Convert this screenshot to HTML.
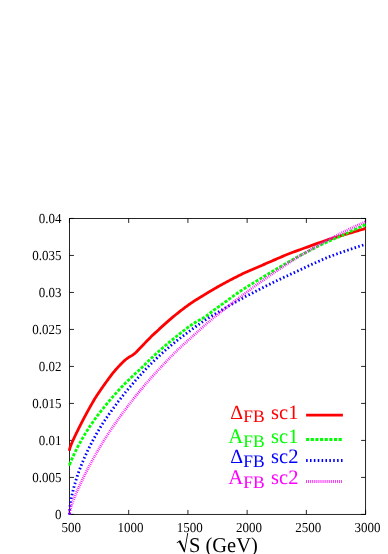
<!DOCTYPE html>
<html><head><meta charset="utf-8"><title>plot</title>
<style>
html,body{margin:0;padding:0;background:#fff;}
svg{display:block;will-change:transform;}
text{font-family:"Liberation Serif",serif;text-rendering:geometricPrecision;}
</style></head><body>
<svg width="388" height="554" viewBox="0 0 388 554">
<rect width="388" height="554" fill="#fff"/>
<g fill="none" stroke="#000" stroke-width="0.85">
<rect x="69.45" y="218.45" width="296.15" height="295.95"/>
<path d="M69.45,514.4 v-4.5 M69.45,218.45 v4.5 M128.68,514.4 v-4.5 M128.68,218.45 v4.5 M187.91,514.4 v-4.5 M187.91,218.45 v4.5 M247.14,514.4 v-4.5 M247.14,218.45 v4.5 M306.37,514.4 v-4.5 M306.37,218.45 v4.5 M365.60,514.4 v-4.5 M365.60,218.45 v4.5 M69.45,514.40 h4.5 M365.6,514.40 h-4.5 M69.45,477.41 h4.5 M365.6,477.41 h-4.5 M69.45,440.41 h4.5 M365.6,440.41 h-4.5 M69.45,403.42 h4.5 M365.6,403.42 h-4.5 M69.45,366.42 h4.5 M365.6,366.42 h-4.5 M69.45,329.43 h4.5 M365.6,329.43 h-4.5 M69.45,292.44 h4.5 M365.6,292.44 h-4.5 M69.45,255.44 h4.5 M365.6,255.44 h-4.5 M69.45,218.45 h4.5 M365.6,218.45 h-4.5 "/>
</g>
<g fill="none" stroke-width="2.8" stroke-linejoin="round">
<path d="M69.45,450.70 L69.45,450.56 L69.46,450.42 L69.47,450.28 L69.48,450.13 L69.50,449.98 L69.52,449.82 L69.54,449.66 L69.57,449.50 L69.60,449.33 L69.64,449.16 L69.68,448.98 L69.72,448.80 L69.76,448.62 L69.81,448.43 L69.87,448.23 L69.93,448.03 L69.99,447.83 L70.05,447.62 L70.12,447.41 L70.19,447.19 L70.27,446.96 L70.35,446.73 L70.43,446.50 L70.52,446.26 L70.61,446.01 L70.71,445.76 L70.81,445.50 L70.91,445.24 L71.01,444.97 L71.12,444.70 L71.24,444.42 L71.35,444.14 L71.48,443.84 L71.60,443.55 L71.73,443.24 L71.86,442.94 L72.00,442.62 L72.14,442.30 L72.28,441.97 L72.43,441.64 L72.58,441.30 L72.73,440.96 L72.89,440.60 L73.05,440.25 L73.22,439.88 L73.39,439.51 L73.56,439.13 L73.74,438.75 L73.92,438.36 L74.10,437.97 L74.29,437.57 L74.48,437.16 L74.68,436.74 L74.87,436.32 L75.08,435.89 L75.28,435.46 L75.49,435.02 L75.71,434.58 L75.93,434.12 L76.15,433.66 L76.37,433.20 L76.60,432.73 L76.83,432.25 L77.07,431.77 L77.31,431.28 L77.55,430.78 L77.80,430.28 L78.05,429.77 L78.31,429.26 L78.57,428.74 L78.83,428.21 L79.09,427.68 L79.36,427.14 L79.64,426.60 L79.91,426.05 L80.19,425.49 L80.48,424.93 L80.77,424.36 L81.06,423.79 L81.36,423.21 L81.65,422.63 L81.96,422.04 L82.27,421.44 L82.58,420.84 L82.89,420.24 L83.21,419.62 L83.53,419.01 L83.86,418.39 L84.18,417.76 L84.52,417.13 L84.85,416.50 L85.19,415.85 L85.54,415.21 L85.89,414.56 L86.24,413.91 L86.59,413.25 L86.95,412.58 L87.32,411.92 L87.68,411.25 L88.05,410.57 L88.43,409.89 L88.80,409.21 L89.19,408.52 L89.57,407.83 L89.96,407.14 L90.35,406.44 L90.75,405.74 L91.15,405.04 L91.55,404.33 L91.96,403.62 L92.37,402.91 L92.78,402.19 L93.20,401.48 L93.63,400.76 L94.05,400.03 L94.48,399.31 L94.91,398.58 L95.35,397.86 L95.79,397.15 L96.24,396.45 L96.69,395.77 L97.14,395.09 L97.59,394.41 L98.05,393.73 L98.52,393.06 L98.98,392.38 L99.45,391.69 L99.93,390.99 L100.41,390.29 L100.89,389.58 L101.37,388.87 L101.86,388.15 L102.36,387.44 L102.85,386.73 L103.35,386.02 L103.86,385.31 L104.36,384.59 L104.88,383.88 L105.39,383.17 L105.91,382.47 L106.43,381.76 L106.96,381.04 L107.49,380.31 L108.02,379.57 L108.56,378.81 L109.10,378.06 L109.65,377.30 L110.20,376.55 L110.75,375.80 L111.31,375.06 L111.87,374.34 L112.43,373.63 L113.00,372.94 L113.57,372.25 L114.14,371.56 L114.72,370.89 L115.30,370.22 L115.89,369.55 L116.48,368.89 L117.07,368.23 L117.67,367.57 L118.27,366.91 L118.87,366.26 L119.48,365.61 L120.09,364.96 L120.71,364.32 L121.33,363.69 L121.95,363.07 L122.58,362.46 L123.21,361.84 L123.84,361.23 L124.48,360.64 L125.12,360.06 L125.77,359.52 L126.42,359.01 L127.07,358.52 L127.73,358.06 L128.39,357.61 L129.05,357.17 L129.72,356.75 L130.39,356.36 L131.07,355.99 L131.75,355.62 L132.43,355.20 L133.12,354.74 L133.81,354.22 L134.50,353.66 L135.20,353.07 L135.90,352.44 L136.60,351.73 L137.31,350.98 L138.03,350.20 L138.74,349.43 L139.46,348.68 L140.19,347.94 L140.91,347.19 L141.64,346.44 L142.38,345.69 L143.12,344.93 L143.86,344.16 L144.61,343.39 L145.35,342.62 L146.11,341.84 L146.87,341.07 L147.63,340.28 L148.39,339.50 L149.16,338.71 L149.93,337.91 L150.71,337.11 L151.49,336.32 L152.27,335.56 L153.06,334.82 L153.85,334.10 L154.64,333.38 L155.44,332.66 L156.24,331.93 L157.05,331.16 L157.86,330.41 L158.67,329.65 L159.48,328.89 L160.31,328.14 L161.13,327.39 L161.96,326.64 L162.79,325.89 L163.62,325.14 L164.46,324.39 L165.31,323.64 L166.15,322.89 L167.00,322.14 L167.86,321.39 L168.71,320.64 L169.57,319.89 L170.44,319.14 L171.31,318.40 L172.18,317.66 L173.06,316.92 L173.94,316.19 L174.82,315.46 L175.71,314.73 L176.60,314.01 L177.49,313.29 L178.39,312.57 L179.29,311.86 L180.20,311.15 L181.11,310.45 L182.02,309.74 L182.94,309.04 L183.86,308.35 L184.79,307.65 L185.71,306.97 L186.65,306.28 L187.58,305.60 L188.52,304.93 L189.46,304.25 L190.41,303.59 L191.36,302.93 L192.32,302.29 L193.27,301.65 L194.24,301.03 L195.20,300.41 L196.17,299.80 L197.14,299.20 L198.12,298.60 L199.10,298.00 L200.08,297.40 L201.07,296.80 L202.06,296.20 L203.06,295.60 L204.06,294.99 L205.06,294.38 L206.07,293.76 L207.08,293.15 L208.09,292.53 L209.11,291.92 L210.13,291.31 L211.15,290.70 L212.18,290.09 L213.22,289.48 L214.25,288.88 L215.29,288.28 L216.34,287.68 L217.38,287.08 L218.43,286.49 L219.49,285.89 L220.55,285.30 L221.61,284.70 L222.68,284.11 L223.74,283.53 L224.82,282.94 L225.90,282.36 L226.98,281.78 L228.06,281.20 L229.15,280.62 L230.24,280.04 L231.34,279.47 L232.44,278.89 L233.54,278.32 L234.65,277.76 L235.76,277.19 L236.87,276.63 L237.99,276.07 L239.11,275.52 L240.24,274.96 L241.36,274.41 L242.50,273.86 L243.63,273.32 L244.77,272.79 L245.92,272.26 L247.07,271.74 L248.22,271.23 L249.37,270.72 L250.53,270.21 L251.69,269.71 L252.86,269.22 L254.03,268.72 L255.20,268.22 L256.38,267.72 L257.56,267.22 L258.75,266.71 L259.94,266.20 L261.13,265.68 L262.33,265.16 L263.53,264.64 L264.73,264.11 L265.94,263.58 L267.15,263.05 L268.36,262.52 L269.58,261.99 L270.80,261.46 L272.03,260.93 L273.26,260.40 L274.49,259.87 L275.73,259.34 L276.97,258.81 L278.21,258.27 L279.46,257.73 L280.71,257.19 L281.97,256.65 L283.23,256.12 L284.49,255.58 L285.76,255.05 L287.03,254.53 L288.30,254.01 L289.58,253.50 L290.86,253.00 L292.15,252.51 L293.44,252.03 L294.73,251.56 L296.03,251.10 L297.33,250.64 L298.63,250.18 L299.94,249.72 L301.25,249.25 L302.57,248.78 L303.89,248.30 L305.21,247.81 L306.53,247.32 L307.86,246.83 L309.20,246.34 L310.54,245.85 L311.88,245.36 L313.22,244.87 L314.57,244.39 L315.92,243.90 L317.28,243.42 L318.64,242.94 L320.00,242.46 L321.37,241.99 L322.74,241.51 L324.12,241.04 L325.49,240.57 L326.88,240.11 L328.26,239.65 L329.65,239.20 L331.04,238.76 L332.44,238.32 L333.84,237.89 L335.25,237.46 L336.65,237.04 L338.07,236.62 L339.48,236.20 L340.90,235.78 L342.32,235.36 L343.75,234.94 L345.18,234.52 L346.62,234.10 L348.05,233.67 L349.50,233.24 L350.94,232.81 L352.39,232.37 L353.84,231.93 L355.30,231.49 L356.76,231.05 L358.22,230.61 L359.69,230.17 L361.16,229.74 L362.64,229.30 L364.12,228.87 L365.60,228.45" stroke="#ff0000"/>
<path d="M306.1,415.05 H342.9" stroke="#ff0000"/>
<path d="M69.45,464.50 L69.45,464.54 L69.47,464.56 L69.49,464.54 L69.52,464.50 L69.56,464.43 L69.61,464.34 L69.67,464.22 L69.73,464.08 L69.81,463.91 L69.89,463.71 L69.98,463.50 L70.09,463.26 L70.20,463.00 L70.32,462.72 L70.44,462.41 L70.58,462.09 L70.73,461.74 L70.88,461.38 L71.04,461.00 L71.22,460.59 L71.40,460.17 L71.59,459.74 L71.79,459.28 L71.99,458.81 L72.21,458.32 L72.43,457.81 L72.67,457.29 L72.91,456.76 L73.16,456.21 L73.42,455.64 L73.69,455.06 L73.97,454.47 L74.26,453.86 L74.55,453.24 L74.86,452.61 L75.17,451.97 L75.49,451.31 L75.82,450.64 L76.16,449.96 L76.51,449.27 L76.87,448.57 L77.24,447.86 L77.61,447.14 L78.00,446.40 L78.39,445.66 L78.79,444.91 L79.20,444.15 L79.62,443.38 L80.05,442.60 L80.49,441.81 L80.93,441.02 L81.39,440.22 L81.85,439.41 L82.32,438.59 L82.80,437.76 L83.29,436.93 L83.79,436.09 L84.30,435.24 L84.82,434.39 L85.34,433.53 L85.88,432.67 L86.42,431.80 L86.97,430.92 L87.53,430.04 L88.10,429.15 L88.68,428.25 L89.27,427.35 L89.86,426.45 L90.47,425.54 L91.08,424.63 L91.71,423.71 L92.34,422.79 L92.98,421.86 L93.63,420.93 L94.28,419.99 L94.95,419.05 L95.63,418.11 L96.31,417.18 L97.00,416.25 L97.70,415.33 L98.42,414.40 L99.14,413.48 L99.86,412.56 L100.60,411.64 L101.35,410.71 L102.10,409.77 L102.87,408.83 L103.64,407.87 L104.42,406.91 L105.21,405.92 L106.01,404.93 L106.82,403.94 L107.63,402.95 L108.46,401.95 L109.29,400.95 L110.14,399.95 L110.99,398.94 L111.85,397.93 L112.72,396.92 L113.60,395.91 L114.49,394.90 L115.38,393.88 L116.29,392.86 L117.20,391.84 L118.12,390.82 L119.05,389.80 L120.00,388.77 L120.94,387.74 L121.90,386.71 L122.87,385.68 L123.84,384.67 L124.83,383.67 L125.82,382.67 L126.82,381.69 L127.84,380.70 L128.86,379.72 L129.88,378.74 L130.92,377.76 L131.97,376.77 L133.02,375.78 L134.09,374.79 L135.16,373.81 L136.24,372.83 L137.33,371.85 L138.43,370.84 L139.54,369.81 L140.66,368.74 L141.78,367.65 L142.92,366.52 L144.06,365.38 L145.21,364.24 L146.37,363.09 L147.54,361.93 L148.72,360.74 L149.91,359.56 L151.11,358.38 L152.31,357.23 L153.53,356.09 L154.75,354.96 L155.98,353.84 L157.22,352.72 L158.47,351.60 L159.73,350.49 L161.00,349.37 L162.27,348.26 L163.56,347.15 L164.85,346.04 L166.15,344.92 L167.46,343.81 L168.78,342.69 L170.11,341.57 L171.45,340.45 L172.80,339.34 L174.15,338.23 L175.52,337.12 L176.89,336.02 L178.27,334.92 L179.66,333.81 L181.06,332.71 L182.47,331.60 L183.89,330.49 L185.31,329.38 L186.75,328.29 L188.19,327.24 L189.64,326.23 L191.10,325.21 L192.57,324.20 L194.05,323.22 L195.54,322.28 L197.04,321.40 L198.54,320.56 L200.06,319.76 L201.58,318.94 L203.11,318.07 L204.65,317.13 L206.20,316.01 L207.76,314.87 L209.33,313.71 L210.90,312.40 L212.49,311.16 L214.08,309.99 L215.69,308.83 L217.30,307.69 L218.92,306.53 L220.55,305.37 L222.18,304.19 L223.83,302.99 L225.49,301.77 L227.15,300.54 L228.82,299.31 L230.51,298.09 L232.20,296.88 L233.90,295.67 L235.61,294.47 L237.32,293.26 L239.05,292.07 L240.78,290.89 L242.53,289.75 L244.28,288.62 L246.04,287.51 L247.81,286.40 L249.59,285.29 L251.38,284.19 L253.18,283.09 L254.98,281.98 L256.80,280.88 L258.62,279.77 L260.45,278.66 L262.29,277.54 L264.14,276.41 L266.00,275.27 L267.87,274.13 L269.75,272.99 L271.63,271.85 L273.52,270.72 L275.43,269.59 L277.34,268.46 L279.26,267.34 L281.19,266.22 L283.13,265.10 L285.07,263.98 L287.03,262.86 L288.99,261.75 L290.97,260.64 L292.95,259.52 L294.94,258.41 L296.94,257.30 L298.95,256.19 L300.97,255.09 L302.99,254.01 L305.03,252.93 L307.07,251.87 L309.13,250.81 L311.19,249.76 L313.26,248.71 L315.34,247.66 L317.43,246.62 L319.52,245.58 L321.63,244.55 L323.74,243.54 L325.87,242.55 L328.00,241.57 L330.14,240.61 L332.29,239.65 L334.45,238.70 L336.62,237.75 L338.79,236.84 L340.98,235.92 L343.17,235.00 L345.38,234.03 L347.59,233.00 L349.81,231.93 L352.04,230.84 L354.28,229.77 L356.52,228.72 L358.78,227.68 L361.04,226.65 L363.32,225.62 L365.60,224.60" stroke="#00ff00" stroke-dasharray="3.100 1.550"/>
<path d="M306.1,439.5 H342.9" stroke="#00ff00" stroke-dasharray="3.100 1.550"/>
<path d="M69.45,514.46 L69.45,513.86 L69.47,513.24 L69.49,512.59 L69.52,511.93 L69.56,511.24 L69.61,510.53 L69.67,509.80 L69.73,509.05 L69.81,508.29 L69.89,507.50 L69.98,506.70 L70.09,505.89 L70.20,505.06 L70.32,504.21 L70.44,503.35 L70.58,502.48 L70.73,501.59 L70.88,500.69 L71.04,499.77 L71.22,498.85 L71.40,497.91 L71.59,496.97 L71.79,496.01 L71.99,495.04 L72.21,494.06 L72.43,493.08 L72.67,492.08 L72.91,491.08 L73.16,490.06 L73.42,489.04 L73.69,488.01 L73.97,486.98 L74.26,485.93 L74.55,484.88 L74.86,483.82 L75.17,482.76 L75.49,481.69 L75.82,480.61 L76.16,479.53 L76.51,478.44 L76.87,477.35 L77.24,476.25 L77.61,475.14 L78.00,474.04 L78.39,472.92 L78.79,471.80 L79.20,470.68 L79.62,469.55 L80.05,468.42 L80.49,467.28 L80.93,466.15 L81.39,465.00 L81.85,463.85 L82.32,462.70 L82.80,461.55 L83.29,460.39 L83.79,459.23 L84.30,458.06 L84.82,456.90 L85.34,455.72 L85.88,454.55 L86.42,453.37 L86.97,452.19 L87.53,451.01 L88.10,449.83 L88.68,448.64 L89.27,447.45 L89.86,446.26 L90.47,445.06 L91.08,443.86 L91.71,442.66 L92.34,441.46 L92.98,440.26 L93.63,439.05 L94.28,437.85 L94.95,436.64 L95.63,435.43 L96.31,434.21 L97.00,433.00 L97.70,431.78 L98.42,430.56 L99.14,429.34 L99.86,428.12 L100.60,426.90 L101.35,425.69 L102.10,424.49 L102.87,423.30 L103.64,422.11 L104.42,420.92 L105.21,419.74 L106.01,418.56 L106.82,417.39 L107.63,416.22 L108.46,415.04 L109.29,413.87 L110.14,412.69 L110.99,411.50 L111.85,410.31 L112.72,409.12 L113.60,407.91 L114.49,406.69 L115.38,405.46 L116.29,404.23 L117.20,402.99 L118.12,401.76 L119.05,400.53 L120.00,399.30 L120.94,398.07 L121.90,396.83 L122.87,395.60 L123.84,394.37 L124.83,393.14 L125.82,391.92 L126.82,390.69 L127.84,389.46 L128.86,388.24 L129.88,387.02 L130.92,385.79 L131.97,384.57 L133.02,383.35 L134.09,382.14 L135.16,380.92 L136.24,379.71 L137.33,378.49 L138.43,377.28 L139.54,376.06 L140.66,374.82 L141.78,373.58 L142.92,372.33 L144.06,371.08 L145.21,369.82 L146.37,368.58 L147.54,367.34 L148.72,366.11 L149.91,364.90 L151.11,363.70 L152.31,362.51 L153.53,361.32 L154.75,360.13 L155.98,358.94 L157.22,357.76 L158.47,356.59 L159.73,355.42 L161.00,354.25 L162.27,353.09 L163.56,351.93 L164.85,350.78 L166.15,349.63 L167.46,348.49 L168.78,347.36 L170.11,346.23 L171.45,345.11 L172.80,343.99 L174.15,342.88 L175.52,341.77 L176.89,340.67 L178.27,339.57 L179.66,338.50 L181.06,337.44 L182.47,336.39 L183.89,335.33 L185.31,334.25 L186.75,333.17 L188.19,332.09 L189.64,331.02 L191.10,329.94 L192.57,328.87 L194.05,327.80 L195.54,326.74 L197.04,325.68 L198.54,324.62 L200.06,323.57 L201.58,322.52 L203.11,321.47 L204.65,320.44 L206.20,319.40 L207.76,318.38 L209.33,317.37 L210.90,316.40 L212.49,315.45 L214.08,314.53 L215.69,313.61 L217.30,312.69 L218.92,311.76 L220.55,310.80 L222.18,309.82 L223.83,308.84 L225.49,307.86 L227.15,306.88 L228.82,305.91 L230.51,304.93 L232.20,303.96 L233.90,302.98 L235.61,302.02 L237.32,301.05 L239.05,300.10 L240.78,299.14 L242.53,298.20 L244.28,297.26 L246.04,296.34 L247.81,295.42 L249.59,294.51 L251.38,293.59 L253.18,292.66 L254.98,291.72 L256.80,290.77 L258.62,289.83 L260.45,288.89 L262.29,287.94 L264.14,287.00 L266.00,286.06 L267.87,285.13 L269.75,284.19 L271.63,283.26 L273.52,282.33 L275.43,281.40 L277.34,280.48 L279.26,279.56 L281.19,278.64 L283.13,277.73 L285.07,276.82 L287.03,275.91 L288.99,275.00 L290.97,274.09 L292.95,273.19 L294.94,272.28 L296.94,271.35 L298.95,270.40 L300.97,269.42 L302.99,268.45 L305.03,267.49 L307.07,266.54 L309.13,265.60 L311.19,264.66 L313.26,263.72 L315.34,262.79 L317.43,261.85 L319.52,260.90 L321.63,259.96 L323.74,259.03 L325.87,258.12 L328.00,257.25 L330.14,256.42 L332.29,255.62 L334.45,254.83 L336.62,254.05 L338.79,253.27 L340.98,252.50 L343.17,251.75 L345.38,251.00 L347.59,250.25 L349.81,249.50 L352.04,248.74 L354.28,247.99 L356.52,247.24 L358.78,246.49 L361.04,245.75 L363.32,245.02 L365.60,244.30" stroke="#0000ff" stroke-dasharray="1.550 2.325"/>
<path d="M306.1,460.5 H342.9" stroke="#0000ff" stroke-dasharray="1.550 2.325"/>
<path d="M69.45,514.41 L69.45,514.13 L69.47,513.83 L69.49,513.53 L69.52,513.21 L69.56,512.87 L69.61,512.53 L69.67,512.17 L69.73,511.80 L69.81,511.41 L69.89,511.01 L69.98,510.59 L70.09,510.17 L70.20,509.72 L70.32,509.27 L70.44,508.80 L70.58,508.31 L70.73,507.81 L70.88,507.30 L71.04,506.77 L71.22,506.23 L71.40,505.68 L71.59,505.11 L71.79,504.53 L71.99,503.93 L72.21,503.32 L72.43,502.69 L72.67,502.05 L72.91,501.40 L73.16,500.73 L73.42,500.05 L73.69,499.35 L73.97,498.65 L74.26,497.92 L74.55,497.19 L74.86,496.44 L75.17,495.67 L75.49,494.90 L75.82,494.11 L76.16,493.31 L76.51,492.49 L76.87,491.66 L77.24,490.82 L77.61,489.97 L78.00,489.11 L78.39,488.23 L78.79,487.34 L79.20,486.43 L79.62,485.52 L80.05,484.59 L80.49,483.66 L80.93,482.71 L81.39,481.75 L81.85,480.77 L82.32,479.79 L82.80,478.80 L83.29,477.79 L83.79,476.78 L84.30,475.75 L84.82,474.72 L85.34,473.67 L85.88,472.61 L86.42,471.55 L86.97,470.47 L87.53,469.39 L88.10,468.29 L88.68,467.19 L89.27,466.08 L89.86,464.96 L90.47,463.83 L91.08,462.69 L91.71,461.54 L92.34,460.39 L92.98,459.22 L93.63,458.05 L94.28,456.88 L94.95,455.69 L95.63,454.50 L96.31,453.30 L97.00,452.09 L97.70,450.88 L98.42,449.66 L99.14,448.43 L99.86,447.20 L100.60,445.96 L101.35,444.72 L102.10,443.48 L102.87,442.23 L103.64,440.98 L104.42,439.73 L105.21,438.48 L106.01,437.22 L106.82,435.96 L107.63,434.70 L108.46,433.43 L109.29,432.16 L110.14,430.90 L110.99,429.62 L111.85,428.35 L112.72,427.07 L113.60,425.79 L114.49,424.51 L115.38,423.23 L116.29,421.94 L117.20,420.65 L118.12,419.35 L119.05,418.06 L120.00,416.76 L120.94,415.45 L121.90,414.15 L122.87,412.83 L123.84,411.52 L124.83,410.20 L125.82,408.87 L126.82,407.54 L127.84,406.20 L128.86,404.86 L129.88,403.52 L130.92,402.17 L131.97,400.82 L133.02,399.47 L134.09,398.12 L135.16,396.77 L136.24,395.42 L137.33,394.06 L138.43,392.71 L139.54,391.36 L140.66,390.00 L141.78,388.65 L142.92,387.31 L144.06,385.96 L145.21,384.61 L146.37,383.27 L147.54,381.92 L148.72,380.58 L149.91,379.23 L151.11,377.89 L152.31,376.55 L153.53,375.20 L154.75,373.86 L155.98,372.51 L157.22,371.17 L158.47,369.82 L159.73,368.47 L161.00,367.12 L162.27,365.76 L163.56,364.40 L164.85,363.03 L166.15,361.65 L167.46,360.27 L168.78,358.88 L170.11,357.49 L171.45,356.11 L172.80,354.73 L174.15,353.36 L175.52,352.01 L176.89,350.68 L178.27,349.37 L179.66,348.07 L181.06,346.77 L182.47,345.48 L183.89,344.19 L185.31,342.89 L186.75,341.59 L188.19,340.29 L189.64,338.99 L191.10,337.69 L192.57,336.37 L194.05,335.04 L195.54,333.70 L197.04,332.34 L198.54,330.96 L200.06,329.58 L201.58,328.20 L203.11,326.81 L204.65,325.43 L206.20,324.06 L207.76,322.69 L209.33,321.35 L210.90,320.03 L212.49,318.72 L214.08,317.42 L215.69,316.13 L217.30,314.84 L218.92,313.55 L220.55,312.27 L222.18,310.98 L223.83,309.69 L225.49,308.38 L227.15,307.08 L228.82,305.77 L230.51,304.45 L232.20,303.14 L233.90,301.83 L235.61,300.52 L237.32,299.21 L239.05,297.90 L240.78,296.59 L242.53,295.28 L244.28,293.97 L246.04,292.66 L247.81,291.34 L249.59,290.02 L251.38,288.69 L253.18,287.36 L254.98,286.04 L256.80,284.71 L258.62,283.40 L260.45,282.09 L262.29,280.79 L264.14,279.50 L266.00,278.21 L267.87,276.93 L269.75,275.65 L271.63,274.37 L273.52,273.09 L275.43,271.81 L277.34,270.53 L279.26,269.25 L281.19,267.97 L283.13,266.66 L285.07,265.33 L287.03,264.00 L288.99,262.67 L290.97,261.36 L292.95,260.08 L294.94,258.83 L296.94,257.61 L298.95,256.42 L300.97,255.23 L302.99,254.05 L305.03,252.85 L307.07,251.65 L309.13,250.46 L311.19,249.27 L313.26,248.08 L315.34,246.90 L317.43,245.73 L319.52,244.56 L321.63,243.40 L323.74,242.25 L325.87,241.10 L328.00,239.96 L330.14,238.83 L332.29,237.70 L334.45,236.57 L336.62,235.45 L338.79,234.33 L340.98,233.22 L343.17,232.12 L345.38,231.03 L347.59,229.95 L349.81,228.88 L352.04,227.82 L354.28,226.78 L356.52,225.74 L358.78,224.71 L361.04,223.69 L363.32,222.69 L365.60,221.70" stroke="#ff00ff" stroke-dasharray="0.775 1.163"/>
<path d="M306.1,481.5 H342.9" stroke="#ff00ff" stroke-dasharray="0.775 1.163"/>
</g>
<g font-size="13" fill="#000">
<text transform="translate(61.6,519.05) scale(1,1.06)" text-anchor="end">0</text>
<text transform="translate(61.6,482.06) scale(1,1.06)" text-anchor="end">0.005</text>
<text transform="translate(61.6,445.06) scale(1,1.06)" text-anchor="end">0.01</text>
<text transform="translate(61.6,408.07) scale(1,1.06)" text-anchor="end">0.015</text>
<text transform="translate(61.6,371.07) scale(1,1.06)" text-anchor="end">0.02</text>
<text transform="translate(61.6,334.08) scale(1,1.06)" text-anchor="end">0.025</text>
<text transform="translate(61.6,297.09) scale(1,1.06)" text-anchor="end">0.03</text>
<text transform="translate(61.6,260.09) scale(1,1.06)" text-anchor="end">0.035</text>
<text transform="translate(61.6,223.10) scale(1,1.06)" text-anchor="end">0.04</text>
<text transform="translate(71.35,531.9) scale(1,1.06)" text-anchor="middle">500</text>
<text transform="translate(130.58,531.9) scale(1,1.06)" text-anchor="middle">1000</text>
<text transform="translate(189.81,531.9) scale(1,1.06)" text-anchor="middle">1500</text>
<text transform="translate(249.04,531.9) scale(1,1.06)" text-anchor="middle">2000</text>
<text transform="translate(308.27,531.9) scale(1,1.06)" text-anchor="middle">2500</text>
<text transform="translate(367.50,531.9) scale(1,1.06)" text-anchor="middle">3000</text>
</g>
<g fill="#ff0000"><text x="230.3" y="418.5" font-size="20">Δ</text><text x="243.3" y="422.4" font-size="17.5">FB</text><text x="271.1" y="418.5" font-size="20.5">sc1</text></g>
<g fill="#00ff00"><text x="228.3" y="443.3" font-size="20.8">A</text><text x="243.3" y="447.2" font-size="17.5">FB</text><text x="271.1" y="443.3" font-size="20.5">sc1</text></g>
<g fill="#0000ff"><text x="230.3" y="463.2" font-size="20">Δ</text><text x="243.3" y="467.1" font-size="17.5">FB</text><text x="271.1" y="463.2" font-size="20.5">sc2</text></g>
<g fill="#ff00ff"><text x="228.3" y="483.8" font-size="20.8">A</text><text x="243.3" y="487.7" font-size="17.5">FB</text><text x="271.1" y="483.8" font-size="20.5">sc2</text></g>

<g fill="#000">
<path d="M176.6,542.7 L179.3,540.5 L180.6,540.5 L184.5,549.3 L187.3,532.9 L188.2,532.9 L184.8,552.3 L184.0,552.3 L178.9,541.9 L177.0,543.3 Z"/>
<text transform="translate(188.9,551.7) scale(1,1.03)" font-size="20.5">S (GeV)</text>
</g>
</svg>
</body></html>
